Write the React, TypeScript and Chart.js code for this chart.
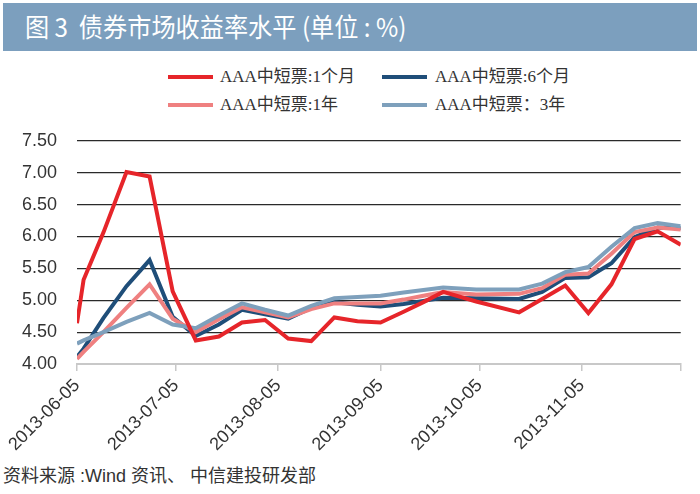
import React, { useEffect, useRef } from 'react';
import { Chart, registerables } from 'chart.js';
Chart.register(...registerables);

// ---- data ----
const dates = [
  '2013-06-05', '2013-06-07', '2013-06-13', '2013-06-20', '2013-06-27', '2013-07-04',
  '2013-07-11', '2013-07-18', '2013-07-25', '2013-08-01', '2013-08-08', '2013-08-15',
  '2013-08-22', '2013-08-29', '2013-09-05', '2013-09-12', '2013-09-18', '2013-09-24',
  '2013-10-04', '2013-10-17', '2013-10-24', '2013-10-31', '2013-11-07', '2013-11-14',
  '2013-11-21', '2013-11-28', '2013-12-05',
];
const aaa1m = [4.64, 5.32, 6.06, 7.01, 6.94, 5.14, 4.37, 4.43, 4.65, 4.69, 4.40, 4.36, 4.73, 4.67, 4.65, 4.82, 4.97, 5.13, 4.98, 4.81, 5.02, 5.23, 4.80, 5.25, 5.96, 6.08, 5.87];
const aaa6m = [4.11, 4.24, 4.72, 5.22, 5.63, 4.74, 4.44, 4.62, 4.85, 4.78, 4.71, 4.88, 4.97, 4.93, 4.90, 4.94, 4.99, 5.04, 5.03, 5.02, 5.13, 5.35, 5.36, 5.58, 5.99, 6.14, 6.13];
const aaa1y = [4.08, 4.19, 4.50, 4.88, 5.25, 4.71, 4.50, 4.70, 4.89, 4.81, 4.73, 4.86, 4.95, 4.95, 4.95, 5.01, 5.07, 5.13, 5.09, 5.10, 5.19, 5.40, 5.42, 5.73, 6.07, 6.14, 6.11];
const aaa3y = [4.32, 4.37, 4.50, 4.66, 4.80, 4.62, 4.56, 4.76, 4.95, 4.85, 4.76, 4.91, 5.03, 5.05, 5.07, 5.12, 5.16, 5.20, 5.17, 5.17, 5.26, 5.44, 5.52, 5.84, 6.13, 6.21, 6.16];
const seriesNames = ['AAA中短票:1个月', 'AAA中短票:6个月', 'AAA中短票:1年', 'AAA中短票：3年'];
const xTickLabels = ['2013-06-05', '2013-07-05', '2013-08-05', '2013-09-05', '2013-10-05', '2013-11-05'];
const xEndDate = '2013-12-05';
const yMin = 4.0;
const yMax = 7.5;
const yStep = 0.5;

const colors = ['#E6252A', '#1F4E79', '#EF8080', '#7EA0BC'];
const drawOrder = [0, 3, 2, 1];

const DAY = 86400000;
const base = Date.parse(xTickLabels[0]);
const dayOf = (s: string) => Math.round((Date.parse(s) - base) / DAY);

export default function App() {
  const ref = useRef<HTMLCanvasElement | null>(null);

  useEffect(() => {
    if (!ref.current) return;
    const all = [aaa1m, aaa6m, aaa1y, aaa3y];
    const tickDays = xTickLabels.map(dayOf);
    const endDay = dayOf(xEndDate);
    const labelByDay: Record<number, string> = {};
    xTickLabels.forEach((l) => { labelByDay[dayOf(l)] = l; });

    const chart = new Chart(ref.current, {
      type: 'line',
      data: {
        datasets: all.map((vals, i) => ({
          label: seriesNames[i],
          data: vals.map((v, j) => ({ x: dayOf(dates[j]), y: v })),
          borderColor: colors[i],
          backgroundColor: colors[i],
          borderWidth: 4,
          pointRadius: 0,
          tension: 0,
          fill: false,
          order: drawOrder[i],
        })),
      },
      options: {
        animation: false,
        responsive: false,
        layout: { padding: { top: 27, right: 14, left: 0, bottom: 0 } },
        plugins: { legend: { display: false }, tooltip: { enabled: false } },
        scales: {
          x: {
            type: 'linear',
            min: 0,
            max: endDay,
            afterBuildTicks: (scale: any) => {
              scale.ticks = [...tickDays, endDay].map((v) => ({ value: v }));
            },
            afterFit: (scale: any) => { scale.height = 96; },
            ticks: {
              autoSkip: false,
              minRotation: 45,
              maxRotation: 45,
              padding: 4,
              color: '#333',
              font: { family: 'Liberation Sans, Arial, sans-serif', size: 18 },
              callback: (v: any) => labelByDay[v as number] ?? '',
            },
            grid: { drawOnChartArea: false, drawTicks: true, tickLength: 7, color: '#c8c8c8', lineWidth: 1.5 },
            border: { display: true, color: '#c8c8c8', width: 2 },
          },
          y: {
            min: yMin,
            max: yMax,
            afterFit: (scale: any) => { scale.width = 77; },
            ticks: {
              stepSize: yStep,
              padding: 20,
              color: '#333',
              font: { family: 'Liberation Sans, Arial, sans-serif', size: 18 },
              callback: (v: any) => Number(v).toFixed(2),
            },
            grid: {
              drawTicks: false,
              lineWidth: 1.2,
              color: (ctx: any) => (ctx.tick && ctx.tick.value === yMin ? 'rgba(0,0,0,0)' : '#2a2a2a'),
            },
            border: { display: false },
          },
        },
      },
    });
    return () => chart.destroy();
  }, []);

  const legendPos = [
    { line: 168, text: 220, y: 77 },
    { line: 382, text: 435, y: 77 },
    { line: 168, text: 220, y: 105 },
    { line: 382, text: 435, y: 105 },
  ];

  return (
    <div style={{ position: 'fixed', left: 0, top: 0, width: 700, height: 494, background: '#fff', overflow: 'hidden' }}>
      <div style={{ position: 'absolute', left: 3, top: 3, width: 694, height: 48, background: '#7C9FBE' }}>
        <div style={{
          position: 'absolute', left: 22, top: -1, height: 48, lineHeight: '48px', color: '#fff',
          fontFamily: '"Noto Sans CJK SC", sans-serif', fontSize: 26, whiteSpace: 'pre',
          transform: 'scaleX(0.93)', transformOrigin: 'left center',
        }}>{'图 3  债券市场收益率水平 (单位 : %)'}</div>
      </div>
      {seriesNames.map((n, i) => (
        <React.Fragment key={n}>
          <div style={{ position: 'absolute', left: legendPos[i].line, top: legendPos[i].y - 2, width: 45, height: 4, background: colors[i] }} />
          <div style={{
            position: 'absolute', left: legendPos[i].text, top: legendPos[i].y - 12, height: 24, lineHeight: '24px',
            fontFamily: '"Liberation Serif", "Noto Sans CJK SC", serif', fontSize: 17, color: '#333', whiteSpace: 'nowrap',
          }}>{n}</div>
        </React.Fragment>
      ))}
      <canvas ref={ref} width={700} height={350} style={{ position: 'absolute', left: 0, top: 110, width: 700, height: 350 }} />
      <div style={{
        position: 'absolute', left: 3, top: 464, height: 24, lineHeight: '24px',
        fontFamily: '"Liberation Sans", "Noto Sans CJK SC", sans-serif', fontSize: 18, color: '#333', whiteSpace: 'pre',
      }}>{'资料来源 :Wind 资讯、 中信建投研发部'}</div>
    </div>
  );
}
